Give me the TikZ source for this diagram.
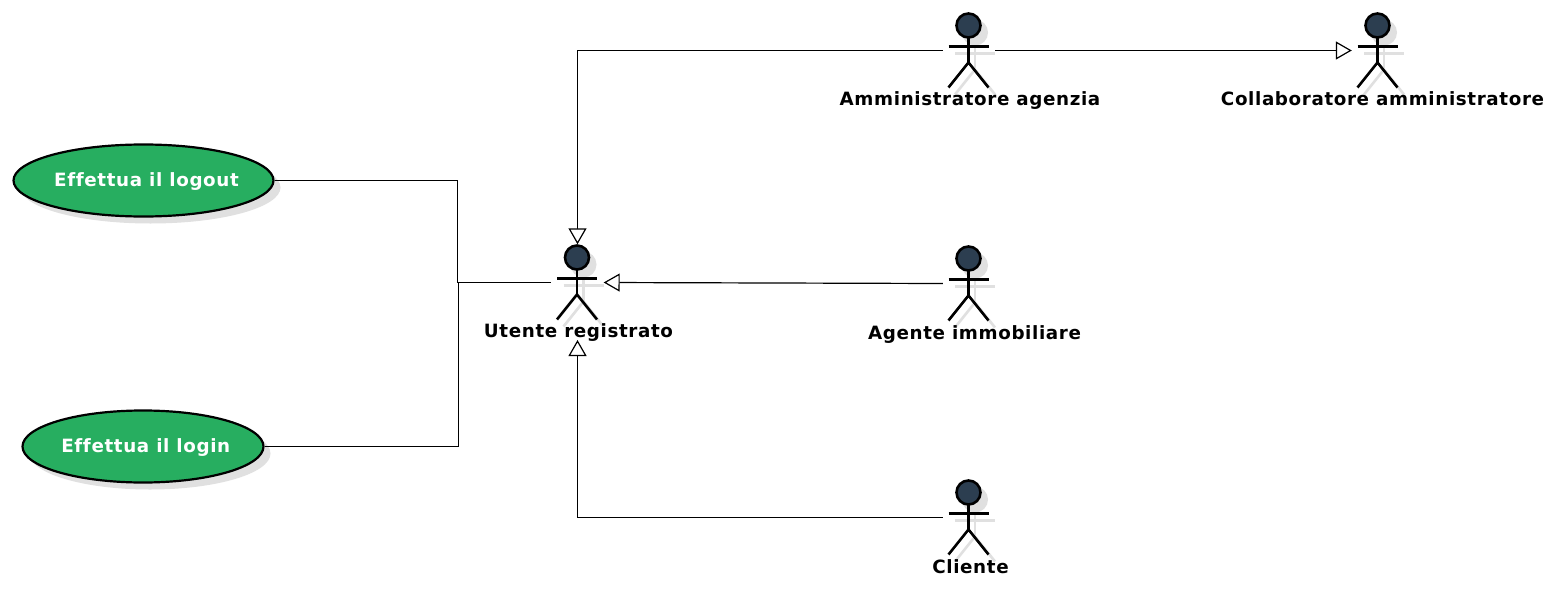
\documentclass[tikz,border=0pt]{standalone}
\usepackage{fontspec}
\setmainfont[LetterSpace=3.4,Ligatures=CommonOff]{DejaVu Sans}
\usetikzlibrary{arrows.meta,shapes.geometric,shadows,calc}
\definecolor{usecasegreen}{HTML}{27AE60}
\definecolor{actorblue}{HTML}{2C3E50}
\definecolor{shadowgrey}{HTML}{E0E0E0}
\newcommand{\uctext}[2]{\makebox[0pt]{\hspace*{#1}\raisebox{-6pt}[0pt][0pt]{#2}}}
\tikzset{
  x=1pt,y=-1pt,
  actorbox/.style={draw=none,fill=none,inner sep=0pt,minimum width=52pt,minimum height=76pt},
  actorlabel/.style={inner sep=0pt,text height=14pt,text depth=2pt,font=\fontsize{18.3pt}{20pt}\selectfont\bfseries,anchor=south},
  usecase/.style={ellipse,draw=black,line width=2.2pt,fill=usecasegreen,inner sep=0pt,text=white,
    font=\fontsize{18.3pt}{20pt}\selectfont\bfseries,
    general shadow={shadow xshift=7pt,shadow yshift=-7pt,fill=shadowgrey}},
  link/.style={draw=black,line width=1.2pt},
  genlink/.style={link,-{Triangle[open,fill=white,length=16pt,width=18pt,line width=1.2pt]}},
}
\newcommand{\stickfig}[1]{%
  \begin{scope}[shift={(#1.center)}]
    \begin{scope}[shift={(6.5,7)},draw=shadowgrey,line width=2.6pt]
      \fill[shadowgrey] (-0.5,-25) circle (13);
      \draw (-0.5,-13) -- (-0.5,12);
      \draw (-20.5,-4) -- (19.5,-4);
      \draw (-20.5,37) -- (-0.5,12) -- (19.5,37);
    \end{scope}
    \draw[line width=2.6pt,fill=actorblue] (-0.5,-25) circle (12);
    \draw[line width=2.6pt] (-0.5,-13) -- (-0.5,12);
    \draw[line width=2.6pt] (-20.5,-4) -- (19.5,-4);
    \draw[line width=2.6pt] (-20.5,37) -- (-0.5,12) -- (19.5,37);
  \end{scope}}
\begin{document}
\begin{tikzpicture}
\useasboundingbox (0,0) rectangle (1548,589);
\fill[white] (0,0) rectangle (1548,589);

\node[actorbox] (utente) at (577.5,282.5) {};
\node[actorbox] (admin) at (969,50.5) {};
\node[actorbox] (collab) at (1378,50.5) {};
\node[actorbox] (agente) at (969,283.5) {};
\node[actorbox] (cliente) at (969,517.5) {};
\stickfig{utente}\stickfig{admin}\stickfig{collab}\stickfig{agente}\stickfig{cliente}

\node[actorlabel] (utentelab) at (578.5,340) {Utente registrato};
\node[actorlabel] (adminlab) at (970,108) {Amministratore agenzia};
\node[actorlabel] (collablab) at (1382.5,108) {Collaboratore amministratore};
\node[actorlabel] (agentelab) at (974.5,342) {Agente immobiliare};
\node[actorlabel] (clientelab) at (970.5,576) {Cliente};

\node[usecase,minimum width=260pt,minimum height=72pt] (logout) at (143.5,180.5) {\uctext{6pt}{Effettua il logout}};
\node[usecase,minimum width=241pt,minimum height=72pt] (login) at (143,446.5) {\uctext{5.5pt}{Effettua il login}};

\draw[link] (logout.east) -- (457.5,180.5) -- (457.5,282.5) -- (utente.west);
\draw[link] (login.east) -- (458.5,446.5) -- (458.5,282.5);
\draw[genlink] (agente.west) -- (utente.east);
\draw[genlink] (admin.west) -| (utente.north);
\draw[genlink] (admin.east) -- (collab.west);
\draw[genlink] (cliente.west) -| (utentelab.south -| utente.south);
\end{tikzpicture}
\end{document}
